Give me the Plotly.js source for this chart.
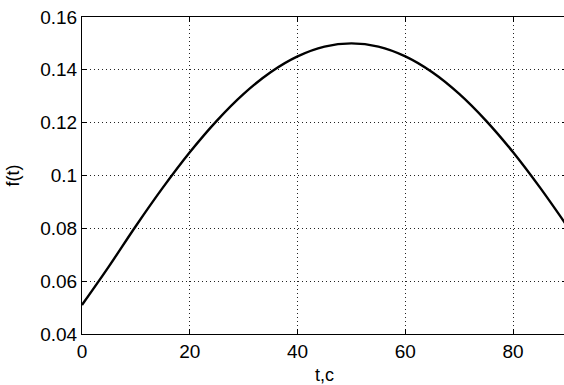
<!DOCTYPE html>
<html>
<head>
<meta charset="utf-8">
<script src="https://cdn.plot.ly/plotly-3.0.1.min.js"></script>
<style>
html, body { margin: 0; padding: 0; overflow: hidden; background: #fff; }
#chart { width: 567px; height: 385px; }
</style>
</head>
<body>
<div id="chart"></div>
<script>
// Values
const tValues = [0, 5, 10, 15, 20, 25, 30, 35, 40, 45, 50, 55, 60, 65, 70, 75, 80, 85, 90];
const fValues = [0.0510, 0.0656, 0.0809, 0.0954, 0.1088, 0.1207, 0.1309, 0.1391, 0.1451, 0.1488,
                 0.1500, 0.1488, 0.1451, 0.1391, 0.1309, 0.1207, 0.1088, 0.0954, 0.0809];
const xTicks = [0, 20, 40, 60, 80];
const yTicks = [0.04, 0.06, 0.08, 0.1, 0.12, 0.14, 0.16];
const yTickText = ['0.04', '0.06', '0.08', '0.1', '0.12', '0.14', '0.16'];
const xLabel = 't,c';
const yLabel = 'f(t)';

const fontFam = '"Liberation Sans", Arial, sans-serif';

const trace = {
  x: tValues,
  y: fValues,
  type: 'scatter',
  mode: 'lines',
  line: { color: '#000', width: 2.4, shape: 'spline' },
  hoverinfo: 'skip'
};

const axisCommon = {
  showline: true,
  linecolor: '#000',
  linewidth: 1,
  mirror: 'ticks',
  ticks: 'inside',
  ticklen: 5,
  tickwidth: 1,
  tickcolor: '#000',
  showgrid: true,
  gridcolor: '#222',
  gridwidth: 1,
  griddash: '1px,3px',
  zeroline: false,
  tickfont: { family: fontFam, size: 19, color: '#000' }
};

const layout = {
  width: 567,
  height: 385,
  margin: { l: 82, r: 0, t: 17, b: 51 },
  paper_bgcolor: '#fff',
  plot_bgcolor: '#fff',
  showlegend: false,
  xaxis: Object.assign({}, axisCommon, {
    range: [0, 90],
    tickmode: 'array',
    tickvals: xTicks,
    ticktext: xTicks.map(String),
    title: { text: xLabel, font: { family: fontFam, size: 18, color: '#000' }, standoff: 7 }
  }),
  yaxis: Object.assign({}, axisCommon, {
    range: [0.04, 0.16],
    tickmode: 'array',
    tickvals: yTicks,
    ticktext: yTickText,
    title: { text: yLabel, font: { family: fontFam, size: 18, color: '#000' }, standoff: 15 }
  })
};

Plotly.newPlot('chart', [trace], layout, { displayModeBar: false, staticPlot: true });
</script>
</body>
</html>
